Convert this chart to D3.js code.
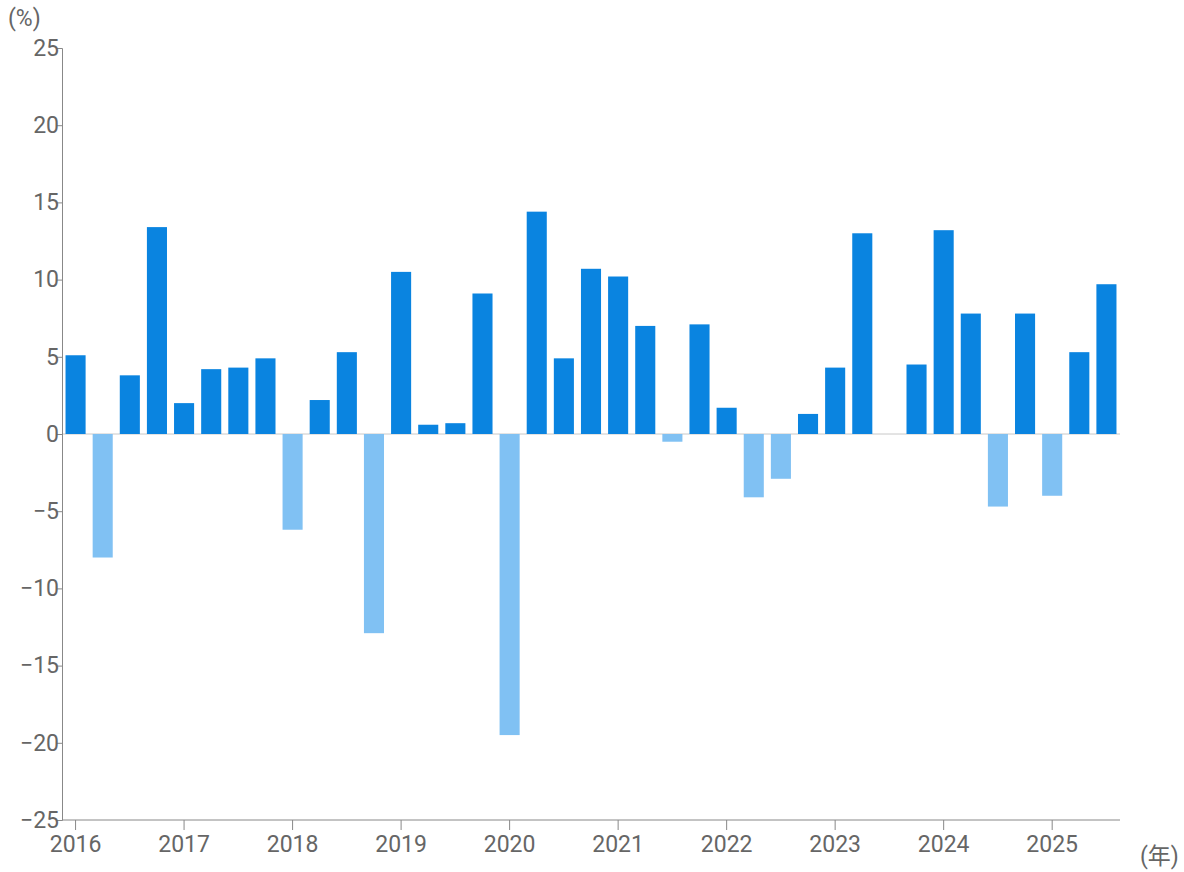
<!DOCTYPE html>
<html><head><meta charset="utf-8">
<script src="https://cdn.jsdelivr.net/npm/d3@7"></script>
<style>body{margin:0;background:#fff}text{font-family:Roboto,"Noto Sans CJK JP",sans-serif}</style>
</head><body><svg id="chart" width="1184" height="872"></svg>
<script>
// quarterly values, 2016 Q1 .. 2025 Q3
var quarters = d3.range(39);
var values = [5.1, -8.0, 3.8, 13.4, 2.0, 4.2, 4.3, 4.9, -6.2, 2.2, 5.3, -12.9,
  10.5, 0.6, 0.7, 9.1, -19.5, 14.4, 4.9, 10.7, 10.2, 7.0, -0.5, 7.1, 1.7, -4.1,
  -2.9, 1.3, 4.3, 13.0, 0, 4.5, 13.2, 7.8, -4.7, 7.8, -4.0, 5.3, 9.7];
var years = ["2016","2017","2018","2019","2020","2021","2022","2023","2024","2025"];
var yTicks = [25,20,15,10,5,0,-5,-10,-15,-20,-25];

var svg = d3.select("#chart");
var plotL = 62, plotR = 1120, plotT = 48, plotB = 820;

var x = d3.scaleBand().domain(quarters).range([plotL, plotR]).paddingInner(0.26).paddingOuter(0.13);
var y = d3.scaleLinear().domain([-25, 25]).range([plotB, plotT]);

// zero line
svg.append("line").attr("x1", plotL).attr("x2", plotR).attr("y1", y(0)).attr("y2", y(0))
  .attr("stroke", "#c8c8c8").attr("stroke-width", 1);

svg.selectAll("rect.bar").data(quarters).enter().append("rect")
  .attr("x", i => x(i)).attr("width", x.bandwidth())
  .attr("y", i => y(Math.max(0, values[i])))
  .attr("height", i => Math.abs(y(values[i]) - y(0)))
  .attr("fill", i => values[i] < 0 ? "#80c1f3" : "#0a84e0");

// y axis
var yAxis = svg.append("g").attr("transform", "translate(" + plotL + ",0)")
  .call(d3.axisLeft(y).tickValues(yTicks).tickSize(6).tickPadding(2));
yAxis.select(".domain").attr("stroke", "#888");
yAxis.selectAll(".tick line").attr("stroke", "#888");
yAxis.selectAll(".tick text").attr("fill", "#666").style("font-size", "23px")
  .attr("text-anchor", "end").attr("x", -3);

// x axis
var xAxis = svg.append("g").attr("transform", "translate(0," + plotB + ")")
  .call(d3.axisBottom(x).tickValues(years.map((d, k) => k * 4))
    .tickFormat((d, k) => years[k]).tickSize(10).tickPadding(6));
xAxis.select(".domain").attr("stroke", "#888").attr("d", "M" + plotL + ",0H" + plotR);
xAxis.selectAll(".tick line").attr("stroke", "#888");
xAxis.selectAll(".tick text").attr("fill", "#666").style("font-size", "23px");

svg.append("text").attr("x", 8).attr("y", 26).attr("fill", "#666").style("font-size", "23px").text("(%)");
svg.append("text").attr("x", 1140).attr("y", 864).attr("fill", "#666").style("font-size", "23px").text("(年)");
</script></body></html>
